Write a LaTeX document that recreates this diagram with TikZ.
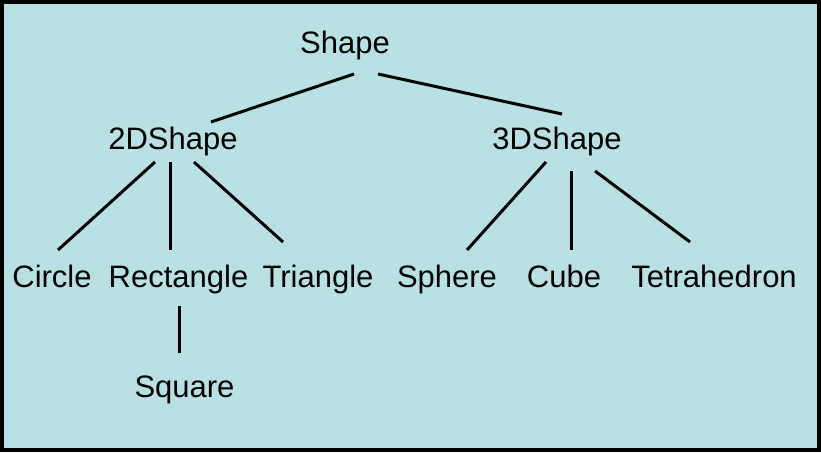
\documentclass[tikz,border=0pt]{standalone}
\usepackage{fontspec}
\setmainfont{Liberation Sans}
\definecolor{bgblue}{HTML}{B9E0E3}
\begin{document}
\begin{tikzpicture}[x=1pt,y=-1pt,
  lbl/.style={inner sep=0pt,anchor=base,font=\fontsize{31}{37}\selectfont},
  edge/.style={line width=3pt,black}]
\useasboundingbox (0,0) rectangle (821,452);
\fill[bgblue] (0,0) rectangle (821,452);
\draw[line width=4pt] (2,2) rectangle (819,450);
\node[lbl] (shape) at (345,54) {Shape};
\node[lbl] (d2) at (173,149) {2DShape};
\node[lbl] (d3) at (557,149) {3DShape};
\node[lbl] (circle) at (52,287) {Circle};
\node[lbl] (rect) at (178.5,287) {Rectangle};
\node[lbl] (tri) at (318,287) {Triangle};
\node[lbl] (sphere) at (447,287) {Sphere};
\node[lbl] (cube) at (564,287) {Cube};
\node[lbl] (tetra) at (714,287) {Tetrahedron};
\node[lbl] (square) at (184.5,397) {Square};
\draw[edge] ([shift={(9,20)}]shape.base) -- ([shift={(38,-27)}]d2.base);
\draw[edge] ([shift={(33,20)}]shape.base) -- ([shift={(5,-35)}]d3.base);
\draw[edge] ([shift={(-18,13)}]d2.base) -- ([shift={(6,-37)}]circle.base);
\draw[edge] ([shift={(-3,13)}]d2.base) -- ([shift={(-8.5,-37)}]rect.base);
\draw[edge] ([shift={(21,13)}]d2.base) -- ([shift={(-35,-45)}]tri.base);
\draw[edge] ([shift={(-11,13)}]d3.base) -- ([shift={(20,-37)}]sphere.base);
\draw[edge] ([shift={(14,22)}]d3.base) -- ([shift={(7,-37)}]cube.base);
\draw[edge] ([shift={(38,22)}]d3.base) -- ([shift={(-24,-45)}]tetra.base);
\draw[edge] ([shift={(0.5,19)}]rect.base) -- ([shift={(-5.5,-44)}]square.base);
\end{tikzpicture}
\end{document}
